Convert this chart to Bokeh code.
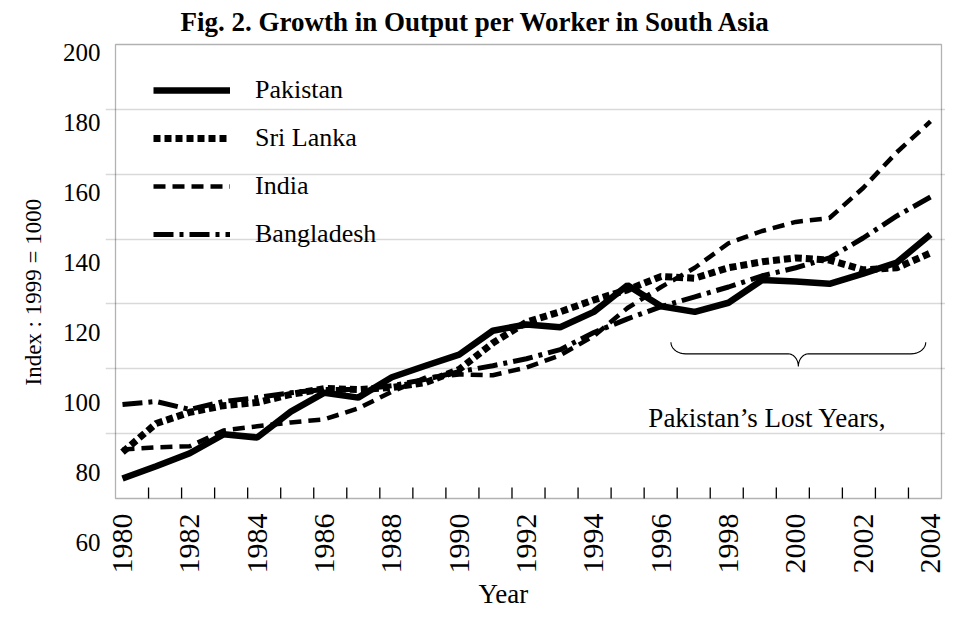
import numpy as np
from bokeh.plotting import figure
from bokeh.models import (Range1d, LinearAxis, FixedTicker, Grid, Legend, LegendItem, Label,
                          BoxAnnotation, ColumnDataSource, Title)
from bokeh.core.properties import value
from bokeh.embed import file_html
from bokeh.resources import INLINE

# ---------------- data ----------------
years = list(range(1980, 2005))
pakistan = [78.3, 81.8, 85.5, 90.9, 90.0, 97.4, 102.8, 101.4, 107.2, 110.5, 113.7, 120.5,
            122.3, 121.5, 125.9, 133.5, 127.5, 125.9, 128.5, 135.0, 134.6, 133.9, 136.8, 140.0, 148.0]
sri_lanka = [85.8, 94.0, 97.2, 99.1, 100.0, 102.3, 104.0, 103.7, 104.3, 105.7, 109.4, 117.0,
             123.0, 125.9, 129.3, 132.2, 136.0, 135.5, 138.5, 140.2, 141.3, 140.7, 137.9, 138.5, 142.7]
india = [86.6, 87.2, 87.5, 92.0, 93.2, 94.3, 95.2, 98.3, 103.1, 107.1, 108.0, 107.8,
         110.0, 113.5, 119.0, 127.0, 133.0, 138.5, 145.5, 149.0, 151.6, 152.7, 161.3, 171.5, 180.3]
bangladesh = [99.4, 100.3, 98.0, 100.3, 101.4, 102.8, 103.7, 103.7, 104.8, 106.6, 108.8, 110.5,
              112.5, 115.1, 120.0, 123.9, 127.4, 130.2, 133.0, 136.2, 138.5, 141.3, 147.0, 153.3, 158.7]
series_names = ["Pakistan", "Sri Lanka", "India", "Bangladesh"]
y_ticks = [60, 80, 100, 120, 140, 160, 180, 200]
grid_values = [80, 100, 120, 140, 160, 180]
x_label_years = list(range(1980, 2005, 2))

TITLE = "Fig. 2.  Growth in Output per Worker in South Asia"
Y_TITLE = "Index : 1999 = 1000"
X_TITLE = "Year"
NOTE = "Pakistan\u2019s Lost Years,"

# ---------------- layout / style ----------------
FONT = "Liberation Serif"
X_START, X_END = 1979.495, 2004.446          # plotting area (years)
BOX_LEFT, BOX_RIGHT = 1979.792, 2004.327     # drawn chart box
CAT_START, CAT_END = 1979.197, 2004.621      # category scale used by the year tick marks
Y_START, Y_END = 50.57, 203.43               # plotting area (index)
BOX_BOTTOM, BOX_TOP = 72.57, 202.29          # drawn chart box


def to_grid(v):
    return 60 + (v - BOX_BOTTOM) * (200 - 60) / (BOX_TOP - BOX_BOTTOM)


p = figure(width=945, height=610, output_backend="svg", toolbar_location=None,
           x_range=Range1d(X_START, X_END), y_range=Range1d(Y_START, Y_END),
           x_axis_type=None, y_axis_type=None,
           min_border_left=105, min_border_right=0, min_border_top=40, min_border_bottom=35,
           background_fill_color="white", border_fill_color="white")
p.outline_line_color = None
p.extra_x_ranges = {"cat": Range1d(CAT_START, CAT_END)}
p.extra_y_ranges = {"grid": Range1d(to_grid(Y_START), to_grid(Y_END))}

p.title.text = TITLE
p.title.text_font = FONT
p.title.text_font_size = "27px"
p.title.text_font_style = "bold"
p.title.text_color = "black"
p.title.align = "left"
p.title.offset = 75
p.title.standoff = 8

grid = Grid(dimension=1, ticker=FixedTicker(ticks=grid_values), y_range_name="grid",
            grid_line_color="#d9d9d9", grid_line_width=1.6)
p.add_layout(grid)

# lines
r_sri = p.line(years, sri_lanka, line_color="black", line_width=7, line_dash="7 4")
r_ind = p.line(years, india, line_color="black", line_width=4.5, line_dash="12 7")
r_ban = p.line(years, bangladesh, line_color="black", line_width=5, line_dash="20 6 4 6")
r_pak = p.line(years, pakistan, line_color="black", line_width=6.5)

# chart box
p.add_layout(BoxAnnotation(left=BOX_LEFT, right=BOX_RIGHT, bottom=BOX_BOTTOM, top=BOX_TOP,
                           fill_alpha=0, line_color="black", line_width=1.3))

# year tick marks (inside, at category boundaries)
p.ray(x=[y + 0.5 for y in years[:-1]], y=BOX_BOTTOM, length=11, length_units="screen",
      angle=np.pi / 2, line_color="black", line_width=1.3, x_range_name="cat")

# year labels
lab_src = ColumnDataSource(dict(x=x_label_years, y=[BOX_BOTTOM] * len(x_label_years),
                                t=[str(y) for y in x_label_years]))
p.text(x="x", y="y", text="t", source=lab_src, angle=np.pi / 2, y_offset=15,
       text_align="right", text_baseline="middle", text_font=value(FONT),
       text_font_size="30px", text_color="black")

legend = Legend(items=[LegendItem(label=n, renderers=[r]) for n, r in
                       zip(series_names, [r_pak, r_sri, r_ind, r_ban])],
                location=(48, 323), orientation="vertical",
                glyph_width=77, glyph_height=36, label_height=36, label_standoff=25,
                spacing=12, padding=5, margin=0,
                border_line_color=None, background_fill_alpha=0,
                label_text_font=FONT, label_text_font_size="26px", label_text_color="black")
p.add_layout(legend)

# y axis (tick labels)
yax = LinearAxis(ticker=FixedTicker(ticks=y_ticks),
                 major_label_text_font=FONT, major_label_text_font_size="25px",
                 major_label_text_color="black", major_label_standoff=5,
                 major_tick_in=0, major_tick_out=0, minor_tick_in=0, minor_tick_out=0,
                 axis_line_color=None)
p.add_layout(yax, "left")

# axis titles
p.add_layout(Title(text=Y_TITLE, text_font=FONT, text_font_size="23px",
                   text_font_style="normal", text_color="black",
                   align="left", offset=190, standoff=27), "left")
p.add_layout(Title(text=X_TITLE, text_font=FONT, text_font_size="27px",
                   text_font_style="normal", text_color="black",
                   align="left", offset=373, standoff=3), "below")

p.add_layout(Label(x=1995.62, y=95.7, text=NOTE, text_align="left",
                   text_baseline="alphabetic", text_font=FONT, text_font_size="27px",
                   text_color="black"))


# brace over the "lost years"
def brace_path(x0, x1, y, rise, drop, end_w, mid_w, n=10):
    th = np.linspace(0, np.pi / 2, n)
    xm = (x0 + x1) / 2
    lx = x0 + end_w * (1 - np.cos(th)); ly = y + rise * (1 - np.sin(th))
    m1x = xm - mid_w + mid_w * np.sin(th); m1y = y - drop + drop * np.cos(th)
    m2x = (xm + mid_w - mid_w * np.sin(th))[::-1]; m2y = m1y[::-1]
    rx = (x1 - end_w * (1 - np.cos(th)))[::-1]; ry = ly[::-1]
    return np.concatenate([lx, m1x, m2x, rx]), np.concatenate([ly, m1y, m2y, ry])


bx, by = brace_path(1996.29, 2003.86, 113.9, 3.3, 3.6, 0.44, 0.3)
p.line(bx, by, line_color="black", line_width=1.1)

open("out.html", "w").write(file_html(p, INLINE))
